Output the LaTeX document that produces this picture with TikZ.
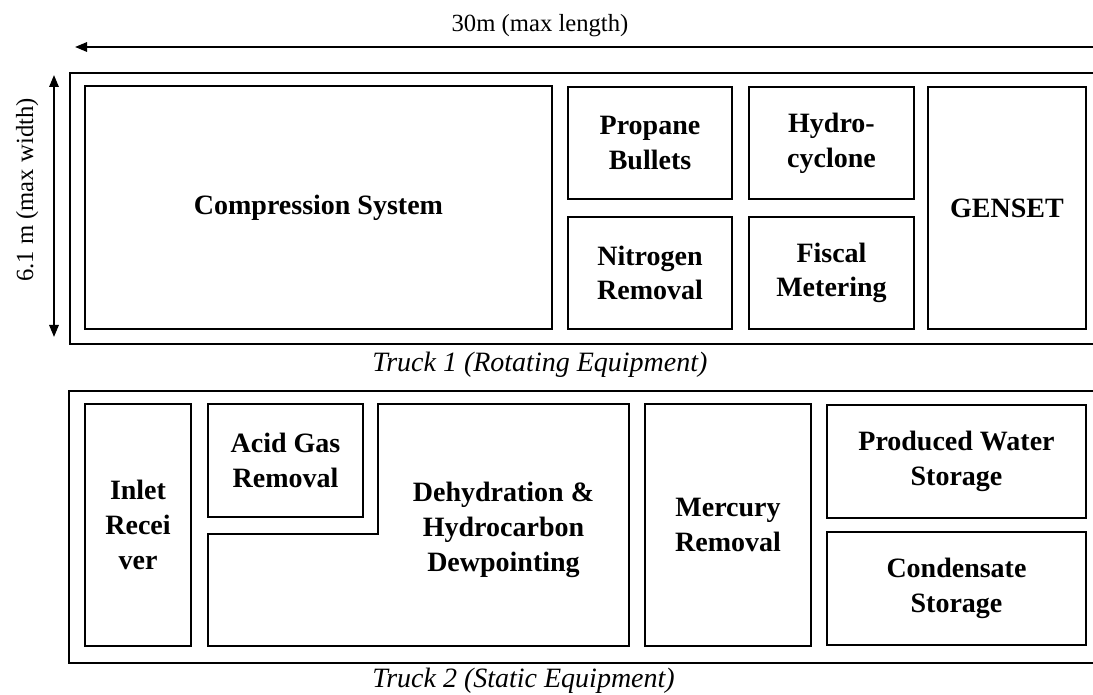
\documentclass[tikz,border=0pt]{standalone}
\usepackage{fontspec}
\setmainfont{Liberation Serif}
\usetikzlibrary{arrows.meta, positioning}

\begin{document}
\begin{tikzpicture}[x=0.75pt, y=-0.75pt, >={Triangle[length=9pt, width=7pt]},
        unit/.style 2 args={rectangle, draw, line width=1pt, inner sep=0pt, align=center, minimum width=#1*0.75pt, minimum height=#2*0.75pt, font=\fontsize{21}{26}\selectfont\bfseries},
        label/.style={align=center, font=\fontsize{21}{26}\selectfont\bfseries},
        truck/.style={line width=1pt},
        dim/.style={line width=1.5pt},
        caption/.style={inner sep=0pt, font=\fontsize{21}{26}\selectfont\itshape},
        dimtext/.style={inner sep=0pt, font=\fontsize{18.5}{22}\selectfont}]

    \path[use as bounding box] (0,0) rectangle (1093,695);

    % dimensions
    \coordinate (lenL) at (75,47);
    \coordinate (lenR) at (1093,47);
    \coordinate (wTop) at (54,75);
    \coordinate (wBot) at (54,337);
    \draw[dim, ->] (lenR) -- (lenL);
    \draw[dim, <->] (wBot) -- (wTop);
    \node (lenlabel) [dimtext, anchor=base] at (540,32) {30m (max length)};
    \node (wlabel) [dimtext, rotate=90, anchor=base] at (33,190) {6.1 m (max width)};

    % truck 1
    \draw[truck] (1093,73) -| (70,344) -- (1093,344);
    \node (comp) [unit={467}{243}] at (318.5,207.5) {Compression System};
    \node (propane) [unit={164}{112}] at (650,143) {Propane\\Bullets};
    \node (hydro) [unit={165}{112}] at (831.5,143) {Hydro-\\cyclone};
    \node (nitro) [unit={164}{112}] at (650,273) {Nitrogen\\Removal};
    \node (fiscal) [unit={165}{112}] at (831.5,273) {Fiscal\\Metering};
    \node (genset) [unit={158}{242}] at (1007,208) {GENSET};
    \node (t1label) [caption, anchor=base west] at (372,372) {Truck 1 (Rotating Equipment)};

    % truck 2
    \draw[truck] (1093,391) -| (69,663) -- (1093,663);
    \node (inlet) [unit={106}{242}] at (138,525) {Inlet\\Recei\\ver};
    \node (acid) [unit={155}{113}] at (285.5,460.5) {Acid Gas\\Removal};
    \draw[line width=1pt] (378,404) -- (629,404) -- (629,646) -- (208,646) -- (208,534) -- (378,534) -- cycle;
    \node (dehyd) [label] at (503.5,530) {Dehydration \&\\Hydrocarbon\\Dewpointing};
    \node (mercury) [unit={166}{242}] at (728,525) {Mercury\\Removal};
    \node (water) [unit={259}{113}] at (956.5,461.5) {Produced Water\\Storage};
    \node (cond) [unit={259}{113}] at (956.5,588.5) {Condensate\\Storage};
    \node (t2label) [caption, anchor=base west] at (372,687) {Truck 2 (Static Equipment)};
\end{tikzpicture}
\end{document}
